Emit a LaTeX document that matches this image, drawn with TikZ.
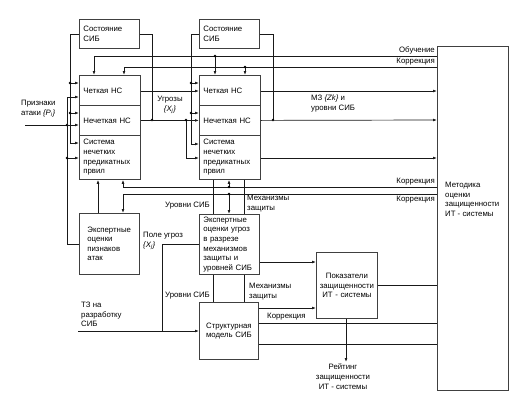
\documentclass[tikz,border=0pt]{standalone}
\usepackage{fontspec}
\setmainfont{Liberation Sans}
\usetikzlibrary{arrows.meta}
\newcommand{\fsz}{\fontsize{7.8}{9.6}\selectfont}
\def\jdot(#1){\fill[black] (#1) circle (1.3);}
\tikzset{
  blk/.style={draw=black!75, line width=0.8pt, anchor=north west, inner ysep=0pt, inner xsep=4pt, align=left, font=\fsz},
  ln/.style={draw=black!90, line width=0.7pt},
  arr/.style={ln, -{Latex[length=4pt,width=2.8pt]}},
  lbl/.style={inner sep=0pt, align=left, font=\fsz},
}

\begin{document}
\begin{tikzpicture}[x=1pt, y=-1pt]
			%%%%% START %%%%%
			\useasboundingbox (0,0) rectangle (518,404);
			
			\node[blk, text width=52pt, minimum height=29pt] (sost1) at (79,19) {Состояние\\СИБ};
			\node[blk, text width=53pt, minimum height=30pt] (chet1) at (79,75) {Четкая НС};
			\node[blk, text width=53pt, minimum height=30pt] (nechet1) at (79,105) {Нечеткая НС};
			\node[blk, text width=53pt, minimum height=44pt] (sys1) at (79,135) {Система\\нечетких\\предикатных\\првил};
			
			\node[blk, text width=52pt, minimum height=29pt] (sost2) at (199,19) {Состояние\\СИБ};
			\node[blk, text width=53pt, minimum height=30pt] (chet2) at (199,75) {Четкая НС};
			\node[blk, text width=53pt, minimum height=30pt] (nechet2) at (199,105) {Нечеткая НС};
			\node[blk, text width=53pt, minimum height=44pt] (sys2) at (199,135) {Система\\нечетких\\предикатных\\првил};
			
			\node[blk, text width=44pt, inner xsep=8pt, minimum height=61pt] (exppr) at (79,213) {Экспертные\\оценки\\пизнаков\\атак};
			\node[blk, text width=52pt, minimum height=60pt] (expug) at (199,214) {Экспертные\\оценки угроз\\в разрезе\\механизмов\\защиты и\\уровней СИБ};
			\node[blk, text width=51pt, minimum height=57pt, align=center] (struct) at (199,302) {Структурная\\модель СИБ};
			\node[blk, text width=57pt, inner xsep=2pt, minimum height=66pt, align=center] (pokaz) at (316,252) {Показатели\\защищенности\\ИТ - системы};
			\node[blk, minimum width=71pt, minimum height=344pt] (metod) at (437,46) {};
			\node[lbl, anchor=north west] (metodtxt) at (445,182) {Методика\\оценки\\защищенности\\ИТ - системы};
			
			% state 1
			\draw[arr] (sost1.west) -| (70,143) -- (sys1.west |- 0,143);
			\draw[arr] (70,83) -- (chet1.west |- 0,83); \jdot(70,83)
			\draw[arr] (70,113) -- (nechet1.west |- 0,113); \jdot(70,113)
			\draw[ln] (sost1.east) -| (152,120); \jdot(152,120)
			
			% attack features
			\draw[arr] (25,125) coordinate (pin) -- (nechet1.west |- 0,125); \jdot(67,125)
			\draw[arr] (exppr.west) -| (67,97) -- (chet1.west |- 0,97);
			\draw[arr] (67,158) -- (sys1.west |- 0,158); \jdot(67,158)
			\draw[arr] (exppr.north -| 98,0) -- (sys1.south -| 98,0);
			
			% learning and correction from top
			\draw[arr] (metod.west |- 0,56) -| (chet1.north -| 94,0);
			\draw[arr] (215,56) -- (chet2.north -| 215,0); \jdot(215,56)
			\draw[arr] (metod.west |- 0,67) -| (chet1.north -| 124,0);
			\draw[arr] (245,67) -- (chet2.north -| 245,0); \jdot(245,67)
			
			% net 1 to net 2
			\draw[arr] (chet1.east |- 0,91) -- (chet2.west |- 0,91);
			\draw[arr] (nechet1.east) -- (nechet2.west);
			\draw[arr] (186,120) |- (sys2.west |- 0,158); \jdot(186,120)
			
			% state 2
			\draw[arr] (sost2.west) -| (191,144) -- (sys2.west |- 0,144);
			\draw[arr] (191,83) -- (chet2.west |- 0,83); \jdot(191,83)
			\draw[arr] (191,113) -- (nechet2.west |- 0,113); \jdot(191,113)
			\draw[ln] (sost2.east) -| (273,120); \jdot(273,120)
			
			% net 2 to method
			\draw[arr] (chet2.east |- 0,91) -- (metod.west |- 0,91);
			\draw[arr] (nechet2.east) -- (metod.west |- 0,120);
			\draw[arr] (sys2.east |- 0,158) -- (metod.west |- 0,158);
			
			% correction from bottom
			\draw[arr] (metod.west |- 0,187) -| (sys1.south -| 123,0);
			\draw[arr] (229,187) -- (sys2.south -| 229,0); \jdot(229,187)
			\draw[arr] (metod.west |- 0,194) -| (exppr.north -| 123,0);
			\draw[arr] (229,194) -- (expug.north -| 229,0); \jdot(229,194)
			
			% levels and mechanisms
			\draw[ln] (sys2.south -| 213,0) -- (expug.north -| 213,0);
			\draw[ln] (sys2.south -| 244,0) -- (expug.north -| 244,0);
			\draw[ln] (expug.south -| 213,0) -- (struct.north -| 213,0);
			\draw[ln] (expug.south -| 244,0) -- (struct.north -| 244,0);
			
			% threat field and spec
			\draw[ln] (expug.west) -| (162,331);
			\draw[arr] (78,331) coordinate (tz) -- (struct.west |- 0,331);
			
			% indicators
			\draw[arr] (expug.east |- 0,262) -- (pokaz.west |- 0,262);
			\draw[arr] (struct.east |- 0,308) -- (pokaz.west |- 0,308);
			\draw[ln] (struct.east |- 0,323) -- (metod.west |- 0,323);
			\draw[ln] (struct.east |- 0,344) -- (metod.west |- 0,344);
			\draw[ln] (pokaz.east) -- (metod.west |- pokaz.east);
			\draw[arr] (pokaz.south -| 346,0) -- (346,362) coordinate (rate);
			
			% labels
			\node[lbl, anchor=north west] (lprizn) at (21,100) {Признаки\\атаки {\itshape\{P\textsubscript{i}\}}};
			\node[lbl, anchor=north, align=center] (lugr) at (170,96) {Угрозы\\{\itshape\{X\textsubscript{j}\}}};
			\node[lbl, anchor=north west] (lmz) at (311,95) {МЗ {\itshape\{Zk\}} и\\уровни СИБ};
			\node[lbl, anchor=south east] (lobuch) at (435,54.5) {Обучение};
			\node[lbl, anchor=south east] (lkor1) at (435,65.5) {Коррекция};
			\node[lbl, anchor=south east] (lkor2) at (435,185.5) {Коррекция};
			\node[lbl, anchor=north east] (lkor3) at (435,196) {Коррекция};
			\node[lbl, anchor=east] (lur1) at (210,206) {Уровни СИБ};
			\node[lbl, anchor=north west] (lmeh1) at (247,195) {Механизмы\\защиты};
			\node[lbl, anchor=north west] (lpole) at (143,232) {Поле угроз\\ {\itshape\{X\textsubscript{j}\}}};
			\node[lbl, anchor=east] (lur2) at (210,296) {Уровни СИБ};
			\node[lbl, anchor=north west] (lmeh2) at (249,283) {Механизмы\\защиты};
			\node[lbl, anchor=north west] (ltz) at (81,302) {ТЗ на\\разработку\\СИБ};
			\node[lbl, anchor=south west] (lkor4) at (267,320.5) {Коррекция};
			\node[lbl, anchor=north, align=center] (lrate) at (343,364) {Рейтинг\\защищенности\\ИТ - системы};
			
			%%%%% END %%%%%
\end{tikzpicture}
\end{document}
